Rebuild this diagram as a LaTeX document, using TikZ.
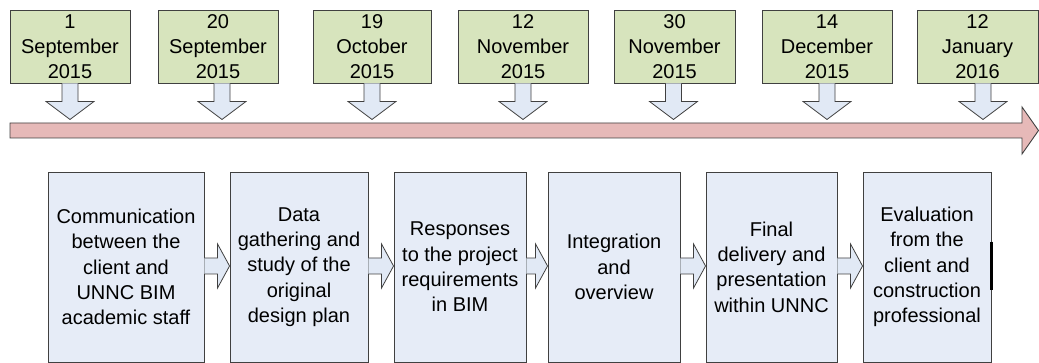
\documentclass[tikz,border=0pt]{standalone}
\usepackage{fontspec}
\setmainfont{Liberation Sans}
\usetikzlibrary{calc}
\definecolor{dategreen}{HTML}{D7E4BD}
\definecolor{stepblue}{HTML}{E6ECF7}
\definecolor{arrblue}{HTML}{E1E9F5}
\definecolor{barred}{HTML}{E6B9B8}
\definecolor{edge}{HTML}{404040}
\tikzset{
  datebox/.style={draw=edge, line width=0.9pt, fill=dategreen, minimum height=73pt, inner sep=0pt,
    align=center, font=\fontsize{20pt}{25pt}\selectfont},
  stepbox/.style={draw=edge, line width=0.9pt, fill=stepblue, minimum height=190pt, inner sep=0pt,
    align=center, font=\fontsize{20pt}{25.3pt}\selectfont},
  blockarr/.style={draw=edge, line width=0.8pt, fill=arrblue, line join=miter},
  timebar/.style={draw=edge, line width=0.9pt, fill=barred}
}
\newcommand{\downarr}[2]{% #1 = date node, #2 = x offset
  \draw[blockarr] ($(#1.south)+(#2-8,0)$) -- ($(#1.south)+(#2-8,18)$) -- ($(#1.south)+(#2-24,18)$)
    -- ($(#1.south)+(#2,36)$) -- ($(#1.south)+(#2+24,18)$) -- ($(#1.south)+(#2+8,18)$)
    -- ($(#1.south)+(#2+8,0)$);}
\newcommand{\rightarr}[2]{%
  \draw[blockarr] ($(#1.east)+(0,-9)$) -- ($(#2.west)+(-12,-9)$) -- ($(#2.west)+(-12,-23)$)
    -- ($(#2.west)+(0,-1)$) -- ($(#2.west)+(-12,21)$) -- ($(#2.west)+(-12,7)$) -- ($(#1.east)+(0,7)$);}
\begin{document}
\begin{tikzpicture}[x=1pt,y=-1pt]
\useasboundingbox (0,0) rectangle (1039,363);
% timeline bar
\draw[timebar] (10,123) -- (1022,123) -- (1022,107) -- (1038.5,130.5) -- (1022,154) -- (1022,138) -- (10,138) -- cycle;
% date boxes
\node[datebox, minimum width=120pt] (d1) at (70,46.5) {1\\September\\2015};
\node[datebox, minimum width=120pt] (d2) at (218,46.5) {20\\September\\2015};
\node[datebox, minimum width=118pt] (d3) at (372,46.5) {19\\October\\2015};
\node[datebox, minimum width=130pt] (d4) at (523,46.5) {12\\November\\2015};
\node[datebox, minimum width=121pt] (d5) at (674.5,46.5) {30\\November\\2015};
\node[datebox, minimum width=130pt] (d6) at (827,46.5) {14\\December\\2015};
\node[datebox, minimum width=121pt] (d7) at (977.5,46.5) {12\\January\\2016};
% down arrows
\downarr{d1}{0}
\downarr{d2}{4}
\downarr{d3}{0}
\downarr{d4}{0}
\downarr{d5}{-1}
\downarr{d6}{0}
\downarr{d7}{5.5}
% step boxes
\node[stepbox, minimum width=156pt] (b1) at (126,267) {Communication\\between the\\client and\\UNNC BIM\\academic staff};
\node[stepbox, minimum width=138pt] (b2) at (299,267) {Data\\gathering and\\study of the\\original\\design plan};
\node[stepbox, minimum width=132pt] (b3) at (460,267) {Responses\\to the project\\requirements\\in BIM};
\node[stepbox, minimum width=132pt] (b4) at (614,267) {Integration\\and\\overview};
\node[stepbox, minimum width=131pt] (b5) at (771.5,267) {Final\\delivery and\\presentation\\within UNNC};
\node[stepbox, minimum width=128pt] (b6) at (927,267) {Evaluation\\from the\\client and\\construction\\professional};
\draw[line width=2.2pt, black] ($(b6.north east)+(0,70)$) -- ($(b6.north east)+(0,118)$);
% right arrows
\rightarr{b1}{b2}
\rightarr{b2}{b3}
\rightarr{b3}{b4}
\rightarr{b4}{b5}
\rightarr{b5}{b6}
\end{tikzpicture}
\end{document}
